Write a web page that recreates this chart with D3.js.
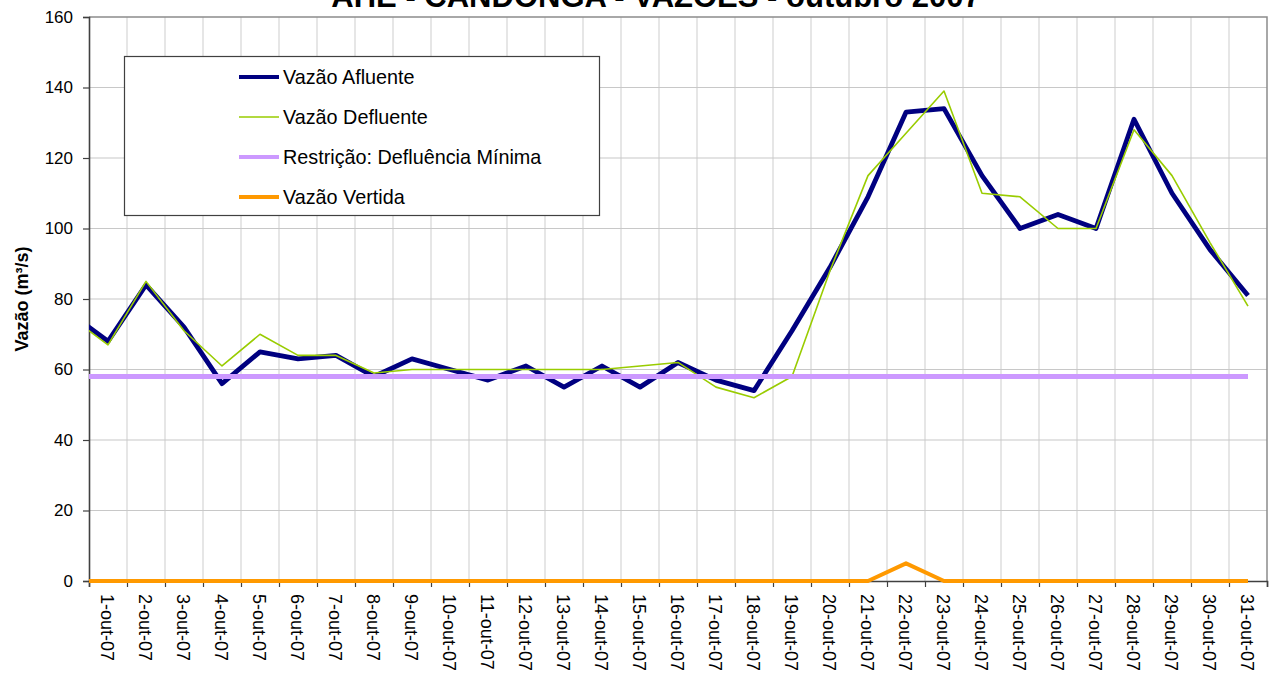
<!DOCTYPE html>
<html>
<head>
<meta charset="utf-8">
<script src="https://cdn.jsdelivr.net/npm/d3@7"></script>
<style>
  html, body { margin: 0; padding: 0; background: #fff; }
  svg { display: block; font-family: Arial, "Liberation Sans", sans-serif; }
</style>
</head>
<body>
<svg id="chart" width="1275" height="673"></svg>
<script>
// days of October 2007 (day 0 = 30-set, only its tail shows at the left edge)
const days = d3.range(0, 32);
const dayLabels = d3.range(1, 32).map(d => `${d}-out-07`);

// m³/s
const afluente = [76, 68, 84, 72, 56, 65, 63, 64, 58, 63, 60, 57, 61, 55, 61, 55, 62,
                  57, 54, 71, 89, 109, 133, 134, 115, 100, 104, 100, 131, 110, 94, 81];
const defluente = [75, 67, 85, 71, 61, 70, 64, 64, 59, 60, 60, 60, 60, 60, 60, 61, 62,
                   55, 52, 58, 88, 115, 127, 139, 110, 109, 100, 100, 128, 115, 96, 78];
const defluenciaMinima = days.map(() => 58);
const vertida = [0, 0, 0, 0, 0, 0, 0, 0, 0, 0, 0, 0, 0, 0, 0, 0, 0,
                 0, 0, 0, 0, 0, 5, 0, 0, 0, 0, 0, 0, 0, 0, 0];
const yTicks = [0, 20, 40, 60, 80, 100, 120, 140, 160];

const series = [
  { name: "Vazão Afluente", values: afluente, color: "#000080", width: 4.8 },
  { name: "Vazão Defluente", values: defluente, color: "#99CC00", width: 1.6 },
  { name: "Restrição: Defluência Mínima", values: defluenciaMinima, color: "#CC99FF", width: 5 },
  { name: "Vazão Vertida", values: vertida, color: "#FF9900", width: 4 }
];

const svg = d3.select("#chart");
const L = 89, R = 1267, T = 17, B = 581;

const x = d3.scaleLinear().domain([0.5, 31.5]).range([L, R]);
const y = d3.scaleLinear().domain([0, 160]).range([B, T]);

// ── Title (cut off by the top edge, as in the original) ──
svg.append("text")
  .attr("x", 656).attr("y", 7)
  .attr("text-anchor", "middle")
  .attr("font-weight", "bold")
  .attr("font-size", 31)
  .text("AHE - CANDONGA - VAZÕES - outubro 2007");

// ── Grid ──
const boundaries = d3.range(1.5, 31.5, 1);
svg.append("g").selectAll("line")
  .data(boundaries)
  .join("line")
    .attr("x1", d => x(d)).attr("x2", d => x(d))
    .attr("y1", T).attr("y2", B)
    .attr("stroke", "#d6d6d6").attr("stroke-width", 1.2);

svg.append("g").selectAll("line")
  .data(yTicks.filter(v => v > 0 && v < 160))
  .join("line")
    .attr("x1", L).attr("x2", R)
    .attr("y1", d => y(d)).attr("y2", d => y(d))
    .attr("stroke", "#c8c8c8").attr("stroke-width", 1.2);

// plot border (top / right)
svg.append("path")
  .attr("d", `M${L},${y(160)}H${R}V${B}`)
  .attr("fill", "none").attr("stroke", "#8c8c8c").attr("stroke-width", 1.5);

// ── Axes ──
const yAxis = svg.append("g")
  .attr("transform", `translate(${L},0)`)
  .call(d3.axisLeft(y).tickValues(yTicks).tickSize(6).tickPadding(10));
yAxis.selectAll("text").attr("font-size", 17).attr("fill", "#000")
  .attr("font-family", "Arial, 'Liberation Sans', sans-serif");

const xAxis = svg.append("g")
  .attr("transform", `translate(0,${B})`)
  .call(d3.axisBottom(x).tickValues(d3.range(0.5, 32, 1)).tickSize(6).tickFormat(""));

svg.append("g").selectAll("text")
  .data(dayLabels)
  .join("text")
    .attr("transform", (d, i) => `translate(${x(i + 1) - 1},${B + 13}) rotate(90)`)
    .attr("dy", "0.35em")
    .attr("font-size", 18)
    .text(d => d);

[yAxis, xAxis].forEach(g => {
  g.select(".domain").attr("stroke", "#404040").attr("stroke-width", 1.6);
  g.selectAll(".tick line").attr("stroke", "#404040").attr("stroke-width", 1.2);
});

// ── Series lines (clipped to the plot's horizontal extent) ──
svg.append("clipPath").attr("id", "plot-clip")
  .append("rect").attr("x", L).attr("y", 0).attr("width", R - L).attr("height", 673);

const line = d3.line().x((v, i) => x(days[i])).y(v => y(v));

svg.append("g").attr("clip-path", "url(#plot-clip)")
  .selectAll("path")
  .data(series)
  .join("path")
    .attr("d", s => line(s.values))
    .attr("fill", "none")
    .attr("stroke", s => s.color)
    .attr("stroke-width", s => s.width)
    .attr("stroke-linejoin", "round");

// ── Legend ──
const lg = svg.append("g");
lg.append("rect")
  .attr("x", 124.5).attr("y", 56.5).attr("width", 475).attr("height", 159)
  .attr("fill", "#fff").attr("stroke", "#404040").attr("stroke-width", 1.2);

const rowY = [77, 117, 157, 197];
const items = lg.selectAll("g.item")
  .data(series)
  .join("g")
    .attr("class", "item")
    .attr("transform", (s, i) => `translate(0,${rowY[i]})`);

items.append("line")
  .attr("x1", 239).attr("x2", 279)
  .attr("stroke", s => s.color)
  .attr("stroke-width", s => Math.min(s.width, 4));

items.append("text")
  .attr("x", 283).attr("dy", "0.35em")
  .attr("font-size", 19.8)
  .text(s => s.name);

// ── Y-axis title ──
svg.append("text")
  .attr("transform", `translate(28,${(T + B) / 2}) rotate(-90)`)
  .attr("text-anchor", "middle")
  .attr("font-weight", "bold")
  .attr("font-size", 18)
  .text("Vazão (m³/s)");
</script>
</body>
</html>
